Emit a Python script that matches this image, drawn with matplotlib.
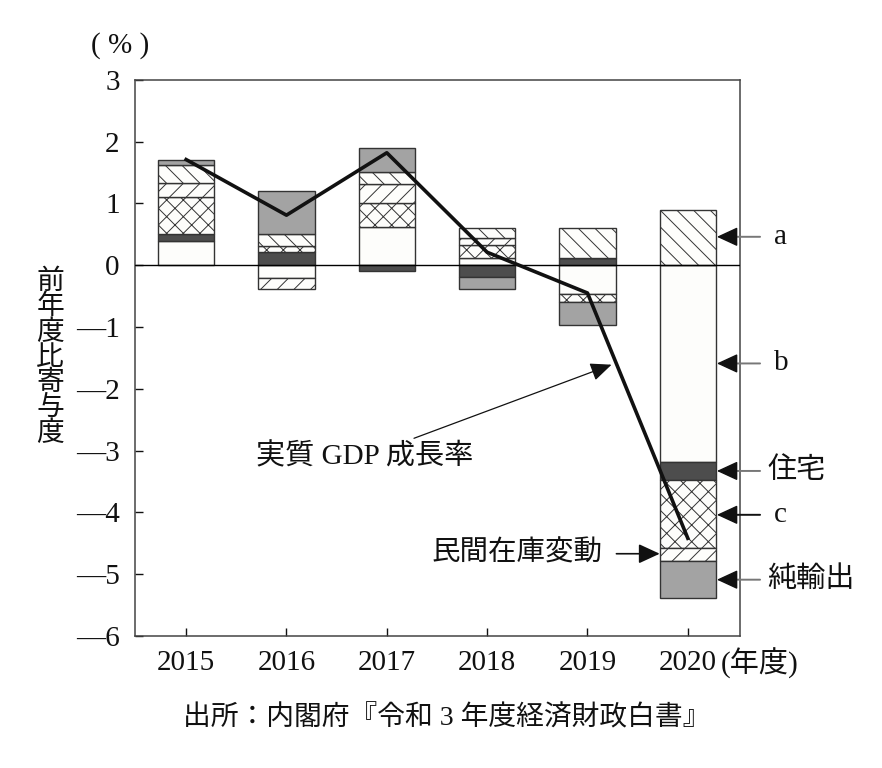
import numpy as np
import matplotlib
matplotlib.use("Agg")
import matplotlib.pyplot as plt
from matplotlib.ticker import FuncFormatter

plt.rcParams['font.family'] = ['Liberation Serif', 'Noto Sans CJK JP']
plt.rcParams['hatch.linewidth'] = 0.7

years = ['2015', '2016', '2017', '2018', '2019', '2020']

# contributions by component (percentage points), stacking order bottom -> top
b_vals = [0.39, -0.21, 0.62, 0.11, -0.47, -3.18]
housing = [0.12, 0.22, -0.09, -0.19, 0.11, -0.30]
c_vals = [0.60, 0.09, 0.38, 0.21, -0.12, -1.10]
inventory = [0.22, -0.17, 0.32, 0.12, 0.0, -0.21]
a_vals = [0.29, 0.19, 0.19, 0.17, 0.49, 0.90]
net_exports = [0.09, 0.70, 0.39, -0.19, -0.38, -0.60]

gdp = [1.71, 0.81, 1.82, 0.21, -0.45, -4.42]

series = [
    (b_vals, '#fdfdfb', ''),
    (housing, '#4d4d4d', ''),
    (c_vals, '#fdfdfb', 'xx'),
    (inventory, '#fdfdfb', '//'),
    (a_vals, '#fdfdfb', '\\\\'),
    (net_exports, '#a3a3a3', ''),
]

fig = plt.figure(figsize=(8.82, 7.68), dpi=100)
ax = fig.add_axes([0.153, 0.172, 0.686, 0.724])

x = np.arange(len(years))
width = 0.56
pos = np.zeros(len(years))
neg = np.zeros(len(years))
for vals, col, hat in series:
    v = np.array(vals)
    bottom = np.where(v >= 0, pos, neg)
    ax.bar(x, v, width, bottom=bottom, color=col, edgecolor='#333333',
           linewidth=1.0, hatch=hat, zorder=2)
    pos = pos + np.where(v >= 0, v, 0)
    neg = neg + np.where(v < 0, v, 0)

ax.axhline(0, color='black', linewidth=1.0, zorder=3)
ax.plot(x, gdp, color='#111111', linewidth=2.6, zorder=4)

ax.set_xlim(-0.51, 5.52)
ax.set_ylim(-6, 3)
ax.set_yticks(np.arange(-6, 4, 1))
ax.yaxis.set_major_formatter(FuncFormatter(
    lambda v, p: ('\u2014' + str(int(-v))) if v < 0 else str(int(v))))
ax.set_xticks(x)
ax.set_xticklabels(years)
ax.tick_params(axis='both', direction='in', labelsize=21, colors='#111111',
               length=6, width=1.0)
ax.tick_params(axis='y', pad=11)
ax.tick_params(axis='x', pad=10)
for s in ax.spines.values():
    s.set_color('#444444')
    s.set_linewidth(1.1)

# right-side labels with arrows: grey shaft, black head
head = dict(arrowstyle='-|>,head_length=0.65,head_width=0.3',
            mutation_scale=20, shrinkA=0, shrinkB=0, lw=1.0,
            color='#111111')
right_labels = [('a', 0.46, '#777777'), ('b', -1.59, '#777777'),
                ('住宅', -3.33, '#777777'), ('c', -4.04, '#111111'),
                ('純輸出', -5.09, '#777777')]
for lab, yv, lc in right_labels:
    ax.annotate('', xy=(5.38, yv), xytext=(5.72, yv),
                arrowprops=dict(arrowstyle='-', color=lc, lw=1.4,
                                shrinkA=0, shrinkB=0),
                annotation_clip=False, zorder=5)
    ax.annotate('', xy=(5.29, yv), xytext=(5.43, yv), arrowprops=head,
                annotation_clip=False, zorder=6)
    ax.text(5.86 if len(lab) == 1 else 5.79, yv, lab, fontsize=21,
            va='center', ha='left', clip_on=False, color='#111111')

ax.annotate('民間在庫変動', xy=(4.72, -4.67), xytext=(4.15, -4.67),
            fontsize=20.5, va='center', ha='right', color='#111111',
            arrowprops=dict(arrowstyle='-|>,head_length=0.65,head_width=0.3',
                            mutation_scale=20, shrinkA=8, shrinkB=0, lw=1.2,
                            color='#111111'))

ax.annotate('実質 GDP 成長率', xy=(4.24, -1.61), xytext=(2.86, -3.10),
            fontsize=21, va='center', ha='right', color='#111111',
            arrowprops=dict(color='#111111',
                            arrowstyle='-|>,head_length=0.65,head_width=0.28',
                            mutation_scale=20, shrinkA=4, shrinkB=0, lw=0.9))

ax.text(5.33, -0.049, '(年度)', transform=ax.get_xaxis_transform(),
        fontsize=21, va='center', ha='left', color='#111111')

fig.text(0.136, 0.941, '( % )', fontsize=21, ha='center', va='center',
         color='#111111')
fig.text(0.057, 0.534, '\n'.join('前年度比寄与度'), fontsize=20,
         ha='center', va='center', linespacing=1.0, color='#111111')
fig.text(0.507, 0.065, '出所：内閣府『令和 3 年度経済財政白書』', fontsize=20,
         ha='center', va='center', color='#111111')

fig.savefig('out.png', dpi=100)
